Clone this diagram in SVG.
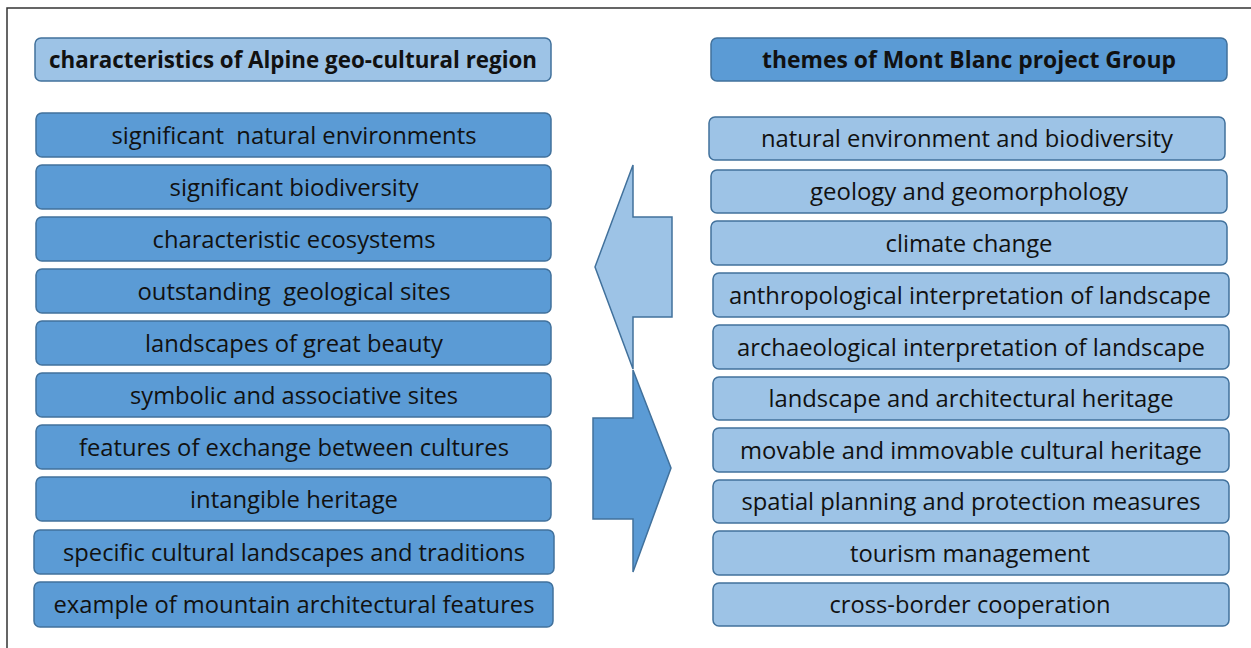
<svg xmlns="http://www.w3.org/2000/svg" width="1251" height="648" viewBox="0 0 1251 648">
<style>
.dk{fill:#5B9BD5;stroke:#41719C;stroke-width:1.5}
.lt{fill:#9DC3E6;stroke:#41719C;stroke-width:1.5}
.t{font-family:"Open Sans","Liberation Sans",sans-serif;font-size:23px;fill:#111;text-anchor:middle;white-space:pre}
.h{font-family:"Open Sans","Liberation Sans",sans-serif;font-size:23px;font-weight:bold;fill:#111;text-anchor:middle}
</style>
<rect x="0" y="0" width="1251" height="648" fill="#fff"/>
<rect x="7" y="8" width="1260" height="660" fill="none" stroke="#333" stroke-width="1.5"/>
<g id="arrows">
<polygon class="lt" points="595,267 633,165 633,217 672,217 672,317 633,317 633,369"/>
<polygon class="dk" points="633,370 671,468 633,572 633,519 593,519 593,418 633,418"/>
</g>
<g id="left-header"><rect class="lt" x="35" y="38" width="516" height="43" rx="6"/><text class="h" x="293" y="68" textLength="488" lengthAdjust="spacingAndGlyphs">characteristics of Alpine geo-cultural region</text></g>
<g id="l1"><rect class="dk" x="36" y="113" width="515" height="44" rx="6"/><text class="t" x="294" y="144" textLength="365" lengthAdjust="spacingAndGlyphs" xml:space="preserve">significant  natural environments</text></g>
<g id="l2"><rect class="dk" x="36" y="165" width="515" height="44" rx="6"/><text class="t" x="294" y="196" textLength="249" lengthAdjust="spacingAndGlyphs">significant biodiversity</text></g>
<g id="l3"><rect class="dk" x="36" y="217" width="515" height="44" rx="6"/><text class="t" x="294" y="248" textLength="283" lengthAdjust="spacingAndGlyphs">characteristic ecosystems</text></g>
<g id="l4"><rect class="dk" x="36" y="269" width="515" height="44" rx="6"/><text class="t" x="294" y="300" textLength="313" lengthAdjust="spacingAndGlyphs" xml:space="preserve">outstanding  geological sites</text></g>
<g id="l5"><rect class="dk" x="36" y="321" width="515" height="44" rx="6"/><text class="t" x="294" y="352" textLength="298" lengthAdjust="spacingAndGlyphs">landscapes of great beauty</text></g>
<g id="l6"><rect class="dk" x="36" y="373" width="515" height="44" rx="6"/><text class="t" x="294" y="404" textLength="328" lengthAdjust="spacingAndGlyphs">symbolic and associative sites</text></g>
<g id="l7"><rect class="dk" x="36" y="425" width="515" height="44" rx="6"/><text class="t" x="294" y="456" textLength="430" lengthAdjust="spacingAndGlyphs">features of exchange between cultures</text></g>
<g id="l8"><rect class="dk" x="36" y="477" width="515" height="44" rx="6"/><text class="t" x="294" y="508" textLength="208" lengthAdjust="spacingAndGlyphs">intangible heritage</text></g>
<g id="l9"><rect class="dk" x="34" y="530" width="520" height="44" rx="6"/><text class="t" x="294" y="561" textLength="462" lengthAdjust="spacingAndGlyphs">specific cultural landscapes and traditions</text></g>
<g id="l10"><rect class="dk" x="34" y="582" width="519" height="45" rx="6"/><text class="t" x="294" y="613" textLength="481" lengthAdjust="spacingAndGlyphs">example of mountain architectural features</text></g>
<g id="right-header"><rect class="dk" x="711" y="38" width="516" height="43" rx="6"/><text class="h" x="969" y="68" textLength="414" lengthAdjust="spacingAndGlyphs">themes of Mont Blanc project Group</text></g>
<g id="r1"><rect class="lt" x="709" y="117" width="516" height="43" rx="6"/><text class="t" x="967" y="147" textLength="412" lengthAdjust="spacingAndGlyphs">natural environment and biodiversity</text></g>
<g id="r2"><rect class="lt" x="711" y="170" width="516" height="43" rx="6"/><text class="t" x="969" y="200" textLength="318" lengthAdjust="spacingAndGlyphs">geology and geomorphology</text></g>
<g id="r3"><rect class="lt" x="711" y="221" width="516" height="44" rx="6"/><text class="t" x="969" y="252" textLength="167" lengthAdjust="spacingAndGlyphs">climate change</text></g>
<g id="r4"><rect class="lt" x="713" y="273" width="516" height="44" rx="6"/><text class="t" x="970" y="304" textLength="482" lengthAdjust="spacingAndGlyphs">anthropological interpretation of landscape</text></g>
<g id="r5"><rect class="lt" x="713" y="325" width="516" height="44" rx="6"/><text class="t" x="971" y="356" textLength="468" lengthAdjust="spacingAndGlyphs">archaeological interpretation of landscape</text></g>
<g id="r6"><rect class="lt" x="713" y="377" width="516" height="43" rx="6"/><text class="t" x="971" y="407" textLength="405" lengthAdjust="spacingAndGlyphs">landscape and architectural heritage</text></g>
<g id="r7"><rect class="lt" x="713" y="428" width="516" height="44" rx="6"/><text class="t" x="971" y="459" textLength="462" lengthAdjust="spacingAndGlyphs">movable and immovable cultural heritage</text></g>
<g id="r8"><rect class="lt" x="713" y="480" width="516" height="43" rx="6"/><text class="t" x="971" y="510" textLength="459" lengthAdjust="spacingAndGlyphs">spatial planning and protection measures</text></g>
<g id="r9"><rect class="lt" x="713" y="531" width="516" height="44" rx="6"/><text class="t" x="970" y="562" textLength="240" lengthAdjust="spacingAndGlyphs">tourism management</text></g>
<g id="r10"><rect class="lt" x="713" y="583" width="516" height="43" rx="6"/><text class="t" x="970" y="613" textLength="281" lengthAdjust="spacingAndGlyphs">cross-border cooperation</text></g>
</svg>
